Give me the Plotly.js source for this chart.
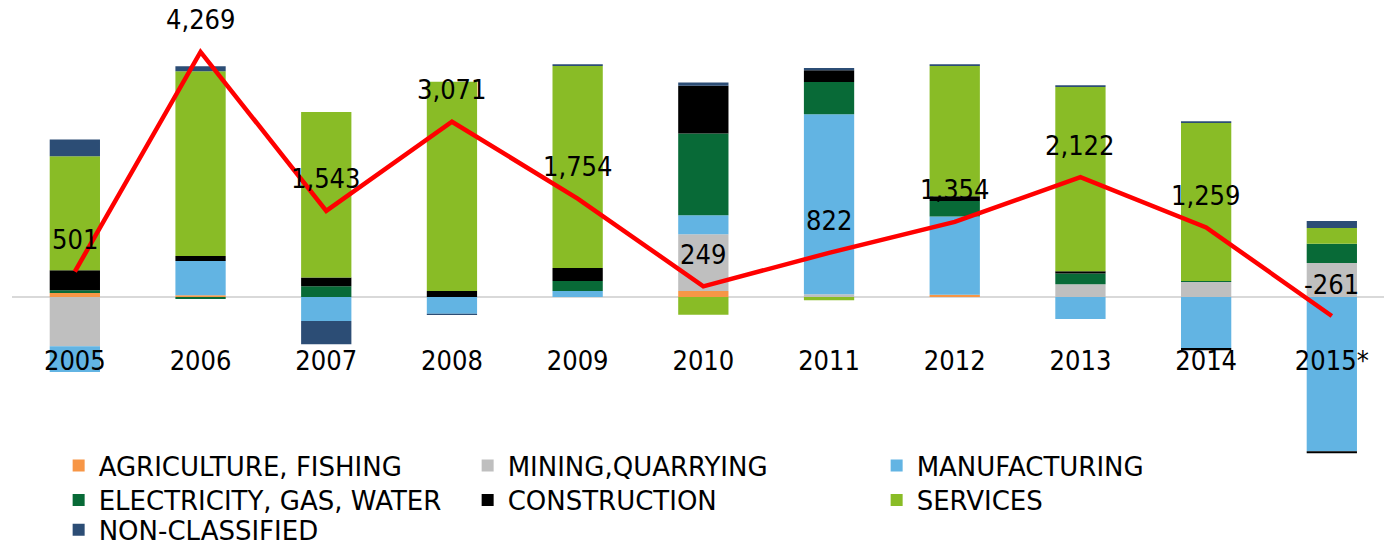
<!DOCTYPE html>
<html>
<head>
<meta charset="utf-8">
<script src="https://cdn.plot.ly/plotly-3.0.1.min.js"></script>
<style>html,body{margin:0;padding:0;background:#fff;}#chart{width:1384px;height:548px;}</style>
</head>
<body>
<div id="chart"></div>
<script>
var years = ["2005","2006","2007","2008","2009","2010","2011","2012","2013","2014","2015*"];
var agriculture = [70, 30, 0, 0, 0, 105, 0, 40, 0, 0, 0];
var mining = [-859, 0, 0, 0, 0, 988, 47, 0, 221, 261, 592];
var manufacturing = [-448, 598, -418, -291, 105, 331, 3136, 1364, -383, -888, -2688];
var electricity = [47, -35, 186, 0, 174, 1423, 563, 267, 186, 17, 336];
var construction = [348, 87, 152, 105, 226, 831, 204, 82, 40, -40, -35];
var services = [1986, 3217, 2885, 3646, 3519, -308, -57, 2270, 3211, 2752, 273];
var nonClassified = [291, 87, -406, -23, 30, 57, 40, 30, 30, 30, 122];
var total = [501, 4269, 1543, 3071, 1754, 249, 822, 1354, 2122, 1259, -261];

var FONT = "DejaVu Sans Condensed, DejaVu Sans, sans-serif";
var LFONT = "DejaVu Sans, sans-serif";
function bar(name, vals, color, lg) {
  return {type: "bar", name: name, x: years, y: vals, marker: {color: color, line: {width: 0}},
          legend: lg, hoverinfo: "skip"};
}
var traces = [
  bar("AGRICULTURE, FISHING", agriculture, "#F79646", "legend"),
  bar("MINING,QUARRYING", mining, "#BFBFBF", "legend"),
  bar("MANUFACTURING", manufacturing, "#62B4E3", "legend"),
  bar("ELECTRICITY, GAS, WATER", electricity, "#086A37", "legend2"),
  bar("CONSTRUCTION", construction, "#000000", "legend2"),
  bar("SERVICES", services, "#89BC26", "legend2"),
  bar("NON-CLASSIFIED", nonClassified, "#2C4D75", "legend3"),
  {type: "scatter", mode: "lines", x: years, y: total, yaxis: "y2", showlegend: false,
   line: {color: "#FF0000", width: 4.5}, hoverinfo: "skip"}
];
var annotations = years.map(function (yr, i) {
  return {x: i, y: total[i], xref: "x", yref: "y2", text: total[i].toLocaleString("en-US"),
          showarrow: false, yshift: 32, font: {family: FONT, size: 27, color: "#000"}};
});
function legendAt(y) {
  return {orientation: "h", x: 0.034, xanchor: "left", y: y, yanchor: "middle",
          entrywidth: 364, entrywidthmode: "pixels", traceorder: "normal",
          font: {family: LFONT, size: 26, color: "#000"}, bgcolor: "rgba(0,0,0,0)"};
}
var layout = {
  width: 1384, height: 548,
  margin: {l: 12, r: 0, t: 20, b: 88, pad: 0, autoexpand: false},
  paper_bgcolor: "#fff", plot_bgcolor: "rgba(0,0,0,0)",
  barmode: "relative", bargap: 0.6,
  font: {family: FONT, size: 27, color: "#000"},
  showlegend: true,
  legend: legendAt(-0.0125),
  legend2: legendAt(-0.0909),
  legend3: legendAt(-0.159),
  xaxis: {type: "category", range: [-0.5, 10.415], anchor: "free", position: 0.2682,
          showline: false, ticks: "", showgrid: false, zeroline: false, fixedrange: true,
          tickfont: {family: FONT, size: 27, color: "#000"}},
  yaxis: {range: [-2840, 4825], showticklabels: false, showgrid: false, ticks: "",
          zeroline: true, zerolinecolor: "#D9D9D9", zerolinewidth: 1.5, showline: false},
  yaxis2: {range: [-2730, 4816], overlaying: "y", visible: false},
  annotations: annotations
};
Plotly.newPlot("chart", traces, layout, {staticPlot: true, displayModeBar: false});
</script>
</body>
</html>
